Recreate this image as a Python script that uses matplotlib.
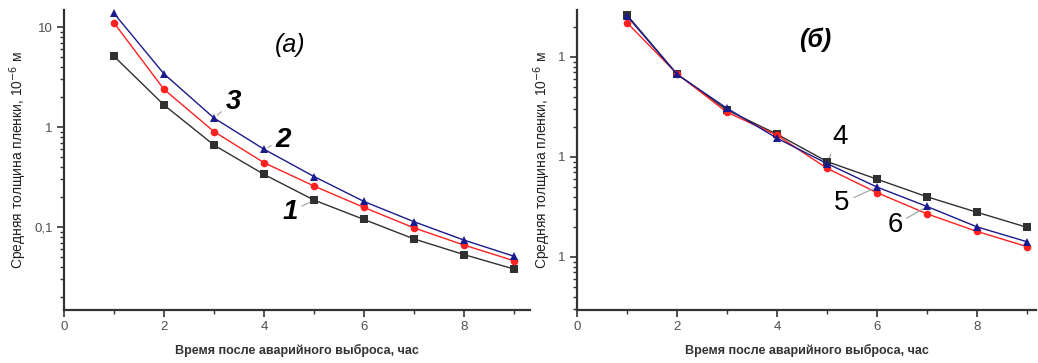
import matplotlib.pyplot as plt
from matplotlib.ticker import LogLocator, NullFormatter, MultipleLocator

plt.rcParams['font.family'] = ['Liberation Sans', 'DejaVu Sans']

hours = [1, 2, 3, 4, 5, 6, 7, 8, 9]

# panel (a)
curve1 = [5.1, 1.66, 0.66, 0.336, 0.186, 0.119, 0.076, 0.053, 0.038]
curve2 = [11.0, 2.38, 0.90, 0.44, 0.257, 0.157, 0.098, 0.066, 0.046]
curve3 = [13.7, 3.4, 1.23, 0.60, 0.32, 0.18, 0.113, 0.074, 0.051]

# panel (б)
curve4 = [2.63, 0.676, 0.295, 0.169, 0.090, 0.060, 0.040, 0.028, 0.0198]
curve5 = [2.2, 0.68, 0.28, 0.165, 0.077, 0.044, 0.027, 0.018, 0.0127]
curve6 = [2.57, 0.67, 0.307, 0.154, 0.086, 0.050, 0.032, 0.020, 0.0142]

xlabel = 'Время после аварийного выброса, час'
ylabel = 'Средняя толщина пленки, 10$^{-6}$ м'

W, H = 1038, 363
fig = plt.figure(figsize=(W / 100, H / 100), dpi=100)
axA = fig.add_axes([64 / W, 1 - 310 / H, (530 - 64) / W, 300 / H])
axB = fig.add_axes([577 / W, 1 - 310 / H, (1036 - 577) / W, 300 / H])

axis_col = '#333333'
tick_col = '#505050'


def style_axis(ax, xmax, ylim, yticks, ylabels):
    ax.set_yscale('log')
    ax.set_xlim(0, xmax)
    ax.set_ylim(*ylim)
    for side in ['top', 'right']:
        ax.spines[side].set_visible(False)
    for side in ['left', 'bottom']:
        ax.spines[side].set_color(axis_col)
        ax.spines[side].set_linewidth(1.6)
    ax.xaxis.set_major_locator(MultipleLocator(2))
    ax.xaxis.set_minor_locator(MultipleLocator(1))
    ax.set_yticks(yticks)
    ax.set_yticklabels(ylabels)
    ax.yaxis.set_minor_locator(LogLocator(base=10, subs=range(2, 10)))
    ax.yaxis.set_minor_formatter(NullFormatter())
    ax.tick_params(which='major', length=5, width=1.2, color=axis_col,
                   labelsize=9.5, labelcolor=tick_col, pad=3)
    ax.tick_params(which='minor', length=3, width=1, color=axis_col)
    ax.set_xlabel(xlabel, fontsize=9, fontweight='bold', color='#333333',
                  labelpad=8)
    ax.set_ylabel(ylabel, fontsize=10, color='#222222', labelpad=4)


def plot_curve(ax, y, color, marker):
    ax.plot(hours, y, color=color, lw=1, marker=marker, markersize=5.5,
            markeredgewidth=0, clip_on=False)


lead = dict(arrowstyle='-', color='#a0a0a0', lw=0.8, shrinkA=1, shrinkB=3)

# panel (a)
style_axis(axA, 9.32, (0.0148, 14.8), [0.1, 1, 10], ['0,1', '1', '10'])
plot_curve(axA, curve1, '#303030', 's')
plot_curve(axA, curve2, '#ff2020', 'o')
plot_curve(axA, curve3, '#1a1a8c', '^')
axA.text(4.52, 6.6, '(a)', fontsize=18, style='italic', ha='center', va='center')
for lab, xy, xt in [('3', (3, curve3[2]), (3.38, 1.78)),
                    ('2', (4, curve3[3]), (4.38, 0.74)),
                    ('1', (5, curve1[4]), (4.52, 0.141))]:
    axA.annotate(lab, xy=xy, xytext=xt, fontsize=20, fontweight='bold',
                 style='italic', ha='center', va='center', arrowprops=lead)

# panel (б)
style_axis(axB, 9.18, (0.00295, 2.95), [0.01, 0.1, 1], ['1', '1', '1'])
plot_curve(axB, curve4, '#303030', 's')
plot_curve(axB, curve5, '#ff2020', 'o')
plot_curve(axB, curve6, '#1a1a8c', '^')
axB.text(4.76, 1.48, '(б)', fontsize=18, style='italic', fontweight='bold',
         ha='center', va='center')
for lab, xy, xt in [('4', (5, curve4[4]), (5.26, 0.158)),
                    ('5', (6, curve6[5]), (5.3, 0.0347)),
                    ('6', (7, curve6[6]), (6.36, 0.0209))]:
    axB.annotate(lab, xy=xy, xytext=xt, fontsize=20,
                 ha='center', va='center', arrowprops=lead)

fig.savefig('out.png', dpi=100)
